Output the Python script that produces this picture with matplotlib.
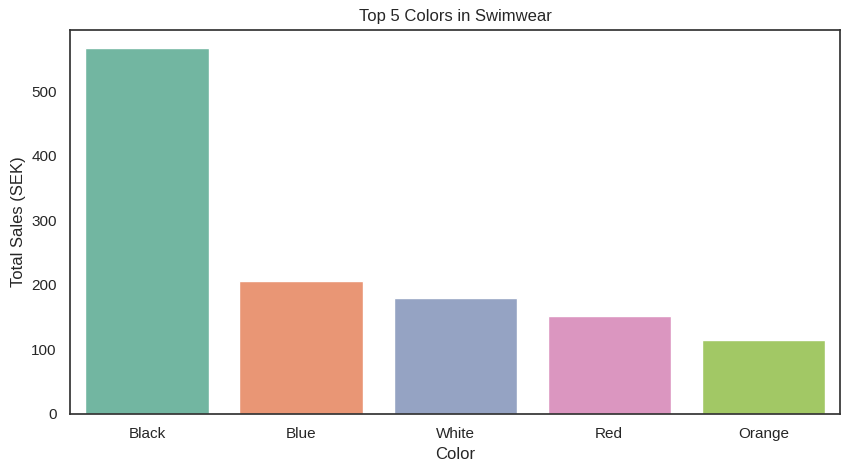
import matplotlib
matplotlib.use('Agg')
import matplotlib.pyplot as plt
import seaborn as sns
import pandas as pd

colors = ['Black', 'Blue', 'White', 'Red', 'Orange']
sales = [567, 206, 180, 152, 114]

sns.set_theme(style='white')
plt.rcParams['font.family'] = ['Arial', 'Liberation Sans', 'DejaVu Sans']
df = pd.DataFrame({'Color': colors, 'Total Sales (SEK)': sales})

fig, ax = plt.subplots(figsize=(8.54, 4.73), dpi=100)
sns.barplot(data=df, x='Color', y='Total Sales (SEK)', hue='Color', palette='Set2',
            legend=False, ax=ax)
ax.set_title('Top 5 Colors in Swimwear')
for s in ax.spines.values():
    s.set_color('#333333')
fig.subplots_adjust(left=0.082, right=0.984, top=0.937, bottom=0.125)
fig.savefig('out.png', dpi=100)
